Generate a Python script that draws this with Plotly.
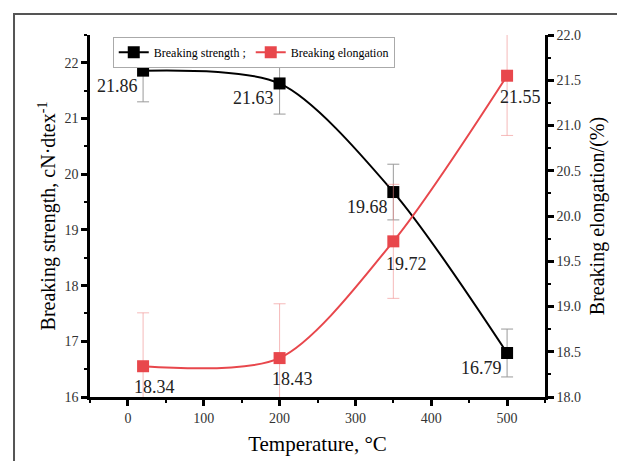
import plotly.graph_objects as go

temperature = [20, 200, 350, 500]
strength = [21.86, 21.63, 19.68, 16.79]
strength_err = [0.56, 0.55, 0.50, 0.43]
elongation = [18.34, 18.43, 19.72, 21.55]
elongation_err = [0.59, 0.60, 0.63, 0.66]

x_ticks = [0, 100, 200, 300, 400, 500]
left_ticks = [16, 17, 18, 19, 20, 21, 22]
right_ticks = [18.0, 18.5, 19.0, 19.5, 20.0, 20.5, 21.0, 21.5, 22.0]

FONT = "Times New Roman, Liberation Serif, serif"
BLACK = "#000000"
RED = "#e8474c"

fig = go.Figure()
fig.add_trace(go.Scatter(
    x=temperature, y=strength, name="Breaking strength ;",
    mode="lines+markers", line=dict(color=BLACK, width=2, shape="spline", smoothing=0.8),
    marker=dict(symbol="square", size=12, color=BLACK),
    error_y=dict(type="data", array=strength_err, color="#9a9a9a", thickness=1, width=6),
    yaxis="y"))
fig.add_trace(go.Scatter(
    x=temperature, y=elongation, name="Breaking elongation",
    mode="lines+markers", line=dict(color=RED, width=2, shape="spline", smoothing=0.8),
    marker=dict(symbol="square", size=12, color=RED),
    error_y=dict(type="data", array=elongation_err, color="rgba(240,140,140,0.6)", thickness=1, width=6),
    yaxis="y2"))

for xv, yv in zip(temperature, strength):
    fig.add_annotation(x=xv, y=yv, xref="x", yref="y", text=f"{yv:.2f}", showarrow=False,
                       xshift=-26, yshift=-15, font=dict(family=FONT, size=18, color="#222"))
red_shift = [(11, -21), (13, -21), (13, -23), (13, -21)]
for (xv, yv), (dx, dy) in zip(zip(temperature, elongation), red_shift):
    fig.add_annotation(x=xv, y=yv, xref="x", yref="y2", text=f"{yv:.2f}", showarrow=False,
                       xshift=dx, yshift=dy, font=dict(family=FONT, size=18, color="#222"))

axis_common = dict(showline=True, linecolor=BLACK, linewidth=2.5, ticks="outside",
                   ticklen=6, tickwidth=2.5, tickcolor=BLACK, showgrid=False, zeroline=False,
                   automargin=True,
                   tickfont=dict(family=FONT, size=14, color="#333"))

fig.update_layout(
    width=625, height=461,
    margin=dict(l=82, r=88, t=27, b=72, autoexpand=False),
    paper_bgcolor="white", plot_bgcolor="white",
    font=dict(family=FONT, color=BLACK),
    showlegend=True,
    legend=dict(orientation="h", x=0.05, y=0.995, xanchor="left", yanchor="top",
                bordercolor="#aaaaaa", borderwidth=1, bgcolor="white",
                font=dict(family=FONT, size=12, color=BLACK),
                itemwidth=30, tracegroupgap=0),
    xaxis=dict(range=[-50, 550], tickvals=x_ticks,
               minor=dict(dtick=50, ticks="outside", ticklen=3, tickwidth=2, tickcolor=BLACK),
               title=dict(text="Temperature, °C", font=dict(family=FONT, size=21), standoff=12),
               **axis_common),
    yaxis=dict(range=[16, 22.5], tickvals=left_ticks,
               minor=dict(dtick=0.5, ticks="outside", ticklen=3, tickwidth=2, tickcolor=BLACK),
               title=dict(text="Breaking strength, cN·dtex<sup>-1</sup>", font=dict(family=FONT, size=20), standoff=4),
               **axis_common),
    yaxis2=dict(range=[18, 22], tickvals=right_ticks, tickformat=".1f", overlaying="y", side="right",
                anchor="x",
                minor=dict(dtick=0.25, ticks="outside", ticklen=3, tickwidth=2, tickcolor=BLACK),
                title=dict(text="Breaking elongation/(%)", font=dict(family=FONT, size=20), standoff=10),
                **axis_common),
)

fig.add_shape(type="rect", xref="paper", yref="paper", x0=-0.167, x1=1.25, y0=-0.25, y1=1.058,
              line=dict(color="#555555", width=2), fillcolor="rgba(0,0,0,0)", layer="below")

fig.write_html("out.html")
